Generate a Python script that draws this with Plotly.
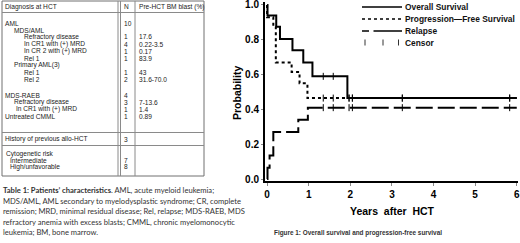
import plotly.graph_objects as go

# ---------------- data ----------------
os_t = [0.0, 0.01, 0.22, 0.31, 0.61, 0.87, 1.09, 1.93, 6.0]
os_v = [1.0, 0.94, 0.875, 0.805, 0.74, 0.67, 0.59, 0.465, 0.465]

pfs_t = [0.0, 0.0, 0.15, 0.21, 0.59, 0.78, 0.97, 6.0]
pfs_v = [1.0, 0.93, 0.875, 0.67, 0.615, 0.55, 0.465, 0.465]

rel_t = [0.0, 0.01, 0.06, 0.15, 0.75, 0.98, 6.0]
rel_v = [0.0, 0.065, 0.135, 0.27, 0.34, 0.41, 0.41]

os_cens_t = [1.35, 1.59, 1.97, 2.05, 3.25, 5.83]
os_cens_v = [0.59, 0.59, 0.465, 0.465, 0.465, 0.465]
pfs_cens_t = [1.35, 1.59, 1.97, 2.05, 3.25, 5.83]
pfs_cens_v = [0.465, 0.465, 0.465, 0.465, 0.465, 0.465]
rel_cens_t = [1.35, 1.59, 1.97, 2.05, 3.25, 5.83]
rel_cens_v = [0.41, 0.41, 0.41, 0.41, 0.41, 0.41]

x_ticks = [0, 1, 2, 3, 4, 5, 6]
y_ticks = [0.0, 0.2, 0.4, 0.6, 0.8, 1.0]

legend_labels = ["Overall Survival", "Progression\u2014Free Survival", "Relapse", "Censor"]

table_header = ["Diagnosis at HCT", "N", "Pre-HCT BM blast (%)"]
table_labels = ["AML", "MDS/AML", "Refractory disease", "In CR1 with (+) MRD",
                "In CR 2 with (+) MRD", "Rel 1", "Primary AML(3)", "Rel 1", "Rel 2",
                "MDS-RAEB", "Refractory disease", "In CR1 with (+) MRD", "Untreated CMML",
                "History of previous allo-HCT",
                "Cytogenetic risk", "Intermediate", "High/unfavorable"]
table_n = ["10", "", "1", "4", "1", "1", "", "1", "2",
           "4", "3", "1", "1",
           "3",
           "", "7", "8"]
table_blast = ["", "", "17.6", "0.22-3.5", "0.17", "83.9", "", "43", "31.6-70.0",
               "", "7-13.6", "1.4", "0.89",
               "", "", "", ""]

table_caption = [
    "<b>Table 1: Patients\u2019 characteristics</b>. AML, acute myeloid leukemia;",
    "MDS/AML, AML secondary to myelodysplastic syndrome; CR, complete",
    "remission; MRD, minimal residual disease; Rel, relapse; MDS-RAEB, MDS",
    "refractory anemia with excess blasts; CMML, chronic myelomonocytic",
    "leukemia; BM, bone marrow.",
]
figure_caption = "Figure 1: Overall survival and progression-free survival"

# ---------------- layout helpers ----------------
W, H = 520, 243
def px(x):
    return x / W
def py(y):
    return 1 - y / H

row_y = [23, 30, 37, 44, 51, 58, 65, 72.5, 79.5,
         95, 102, 109, 116,
         139,
         153.5, 160, 166.5]
row_x = [4, 13, 23, 23, 23, 23, 13, 23, 23,
         4, 13, 15, 4,
         4,
         5, 9, 9]

fig = go.Figure()

BLACK = "black"
fig.add_trace(go.Scatter(x=os_t, y=os_v, mode="lines", line=dict(color=BLACK, width=2, shape="hv"),
                         showlegend=False, hoverinfo="skip", cliponaxis=False))
fig.add_trace(go.Scatter(x=pfs_t, y=pfs_v, mode="lines",
                         line=dict(color=BLACK, width=2, shape="hv", dash="3px,3px"),
                         showlegend=False, hoverinfo="skip", cliponaxis=False))
fig.add_trace(go.Scatter(x=rel_t, y=rel_v, mode="lines",
                         line=dict(color=BLACK, width=2, shape="hv", dash="17px,5px"),
                         showlegend=False, hoverinfo="skip", cliponaxis=False))
for ct, cv in [(os_cens_t, os_cens_v), (pfs_cens_t, pfs_cens_v), (rel_cens_t, rel_cens_v)]:
    fig.add_trace(go.Scatter(x=ct, y=cv, mode="markers",
                             marker=dict(symbol="line-ns-open", size=5, color=BLACK,
                                         line=dict(color="#444", width=1)),
                             showlegend=False, hoverinfo="skip"))

shapes = []
annotations = []

# ---------------- table ----------------
TF = "Liberation Sans"
TCOL = "#222222"
LCOL = "#8a8a8a"
TB = 176
def hline(y, x0=2, x1=204, color=LCOL, w=1):
    shapes.append(dict(type="line", xref="paper", yref="paper", x0=px(x0), x1=px(x1),
                       y0=py(y), y1=py(y), line=dict(color=color, width=w)))
def vline(x, y0=1, y1=TB, color=LCOL, w=1):
    shapes.append(dict(type="line", xref="paper", yref="paper", x0=px(x), x1=px(x),
                       y0=py(y0), y1=py(y1), line=dict(color=color, width=w)))

shapes.append(dict(type="rect", xref="paper", yref="paper", x0=px(2), x1=px(204),
                   y0=py(1), y1=py(TB), line=dict(color="#707070", width=1)))
hline(12.5)
hline(132.5)
hline(145.5)
vline(118)
vline(120.5)
vline(135)

def txt(x, y, s, size=6.6, family=TF, color=TCOL, anchor="left", **kw):
    annotations.append(dict(x=px(x), y=py(y), xref="paper", yref="paper", text=s,
                            showarrow=False, xanchor=anchor, yanchor="middle",
                            font=dict(family=family, size=size, color=color), borderpad=0, **kw))

txt(4, 6.5, table_header[0])
txt(122.5, 6.5, table_header[1])
txt(138, 6.5, table_header[2])
for lab, n, b, y, x in zip(table_labels, table_n, table_blast, row_y, row_x):
    txt(x, y, lab)
    if n:
        txt(122.5, y, n)
    if b:
        txt(138, y, b)

for i, line in enumerate(table_caption):
    txt(2, 190 + i * 10.5, line, size=7.6, family="Lato", color="#333")

# ---------------- figure captions / titles ----------------
txt(273, 232.5, "<b>" + figure_caption + "</b>", size=6.4, family="Liberation Sans", color="#333")
txt(392, 210.5, "<b>Years  after  HCT</b>", size=10.5, family="Liberation Sans", color="black",
    anchor="center")
annotations.append(dict(x=px(237), y=py(93), xref="paper", yref="paper",
                        text="<b>Probability</b>", textangle=-90, showarrow=False,
                        xanchor="center", yanchor="middle",
                        font=dict(family="Liberation Sans", size=10.5, color="black")))

# ---------------- custom legend ----------------
LX0, LX1 = 362, 402
leg_y = [7, 19, 31, 42.5]
def seg(x0, x1, y, dash="solid", w=1.5):
    shapes.append(dict(type="line", xref="paper", yref="paper", x0=px(x0), x1=px(x1),
                       y0=py(y), y1=py(y), line=dict(color="black", width=w, dash=dash)))
seg(LX0, LX1, leg_y[0])
seg(LX0, LX1, leg_y[1], dash="3px,3px", w=1.5)
seg(362, 369, leg_y[2])
seg(373.5, LX1, leg_y[2])
for xc in [365, 383, 398.5]:
    shapes.append(dict(type="line", xref="paper", yref="paper", x0=px(xc), x1=px(xc),
                       y0=py(leg_y[3] - 3), y1=py(leg_y[3] + 3),
                       line=dict(color="#333", width=1)))
for lab, y in zip(legend_labels, leg_y):
    txt(404, y, "<b>" + lab + "</b>", size=8.4, family="Liberation Sans", color="#111")

fig.update_layout(
    width=W, height=H,
    margin=dict(l=0, r=0, t=0, b=0, autoexpand=False),
    paper_bgcolor="white", plot_bgcolor="white",
    shapes=shapes, annotations=annotations,
    xaxis=dict(domain=[265 / W, 518 / W], range=[-0.05, 6.03], automargin=False,
               tickvals=x_ticks, ticktext=[str(v) for v in x_ticks], ticklabeloverflow="allow",
               showgrid=False, zeroline=False, showline=True, linecolor="black", linewidth=2,
               ticks="outside", ticklen=3, tickwidth=1, tickcolor="#888",
               tickfont=dict(family="Liberation Sans", size=10, color="black", weight="bold")),
    yaxis=dict(domain=[1 - 181 / H, 1 - 2 / H], range=[-0.0115, 1.0172], automargin=False,
               tickvals=y_ticks, ticktext=["%.1f" % v for v in y_ticks], ticklabeloverflow="allow",
               showgrid=False, zeroline=False, showline=True, linecolor="black", linewidth=2,
               ticks="outside", ticklen=2, tickwidth=1, tickcolor="#888",
               tickfont=dict(family="Liberation Sans", size=10, color="black", weight="bold")),
)

fig.write_html("out.html", config={"displayModeBar": False},
               post_script="document.body.style.margin='0';document.body.style.overflow='hidden';")
